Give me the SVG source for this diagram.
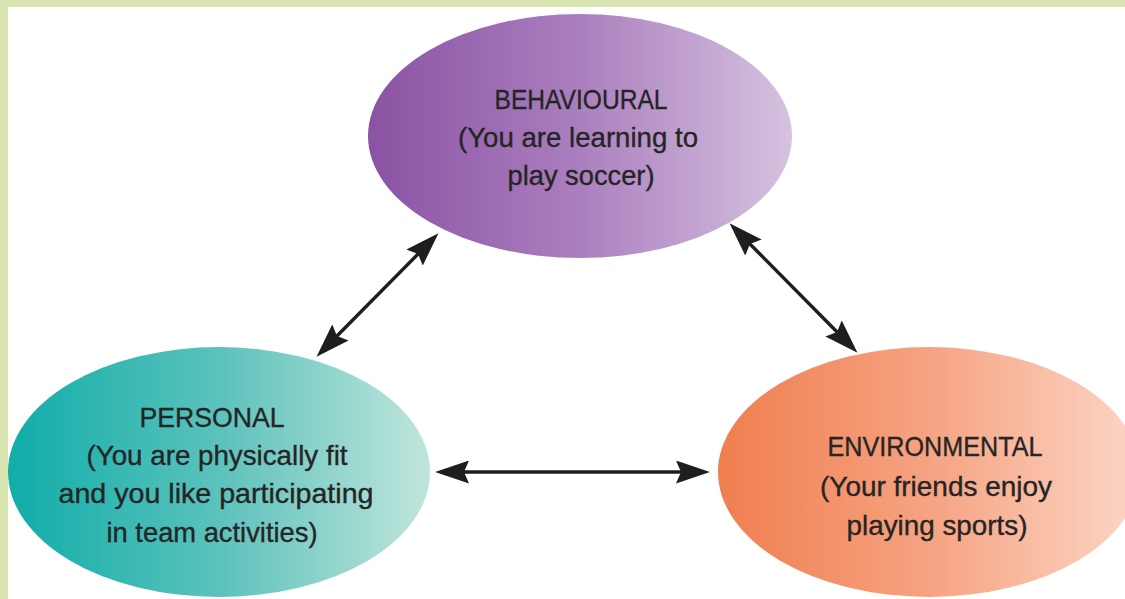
<svg xmlns="http://www.w3.org/2000/svg" width="1125" height="599" viewBox="0 0 1125 599">
<defs>
<style>
.lbl{font-family:"Liberation Sans Narrow","Liberation Sans",Arial,sans-serif;font-size:28px;fill:#252525;stroke:#252525;stroke-width:0.35;text-anchor:middle}
.conn{stroke:#1e1e1e;stroke-width:3.4;fill:none;marker-start:url(#ah);marker-end:url(#ah)}
</style>
<linearGradient id="gPurple" x1="0" y1="0" x2="1" y2="0">
<stop offset="0" stop-color="#8a52a3"/>
<stop offset="0.5" stop-color="#ab7fbe"/>
<stop offset="1" stop-color="#d6c2e0"/>
</linearGradient>
<linearGradient id="gTeal" x1="0" y1="0" x2="1" y2="0">
<stop offset="0" stop-color="#0fada9"/>
<stop offset="0.5" stop-color="#5cc2bc"/>
<stop offset="1" stop-color="#c0e5db"/>
</linearGradient>
<linearGradient id="gOrange" x1="0" y1="0" x2="1" y2="0">
<stop offset="0" stop-color="#f07e4f"/>
<stop offset="0.5" stop-color="#f6a382"/>
<stop offset="1" stop-color="#fcd6c6"/>
</linearGradient>
<marker id="ah" markerUnits="userSpaceOnUse" markerWidth="34" markerHeight="23" viewBox="0 0 34 23" refX="12" refY="11.5" orient="auto-start-reverse">
<path d="M0,0 L34,11.5 L0,23 L5,11.5 z" fill="#1e1e1e"/>
</marker>
</defs>
<rect x="0" y="0" width="1125" height="599" fill="#d8e5b0"/>
<rect x="8" y="7" width="1117" height="592" fill="#ffffff"/>
<g id="connectors">
<line class="conn" x1="332" y1="341" x2="423" y2="249"/>
<line class="conn" x1="745" y1="239" x2="842" y2="337"/>
<line class="conn" x1="457" y1="472" x2="688" y2="472"/>
</g>
<g id="behavioural">
<ellipse cx="580" cy="136" rx="212" ry="122" fill="url(#gPurple)"/>
<text class="lbl" x="581" y="109" textLength="173" lengthAdjust="spacingAndGlyphs">BEHAVIOURAL</text>
<text class="lbl" x="578" y="147" textLength="240" lengthAdjust="spacingAndGlyphs">(You are learning to</text>
<text class="lbl" x="581" y="185" textLength="147" lengthAdjust="spacingAndGlyphs">play soccer)</text>
</g>
<g id="personal">
<ellipse cx="219" cy="472" rx="211" ry="125" fill="url(#gTeal)"/>
<text class="lbl" x="212" y="427" textLength="145" lengthAdjust="spacingAndGlyphs">PERSONAL</text>
<text class="lbl" x="217" y="465" textLength="261" lengthAdjust="spacingAndGlyphs">(You are physically fit</text>
<text class="lbl" x="216" y="503" textLength="315" lengthAdjust="spacingAndGlyphs">and you like participating</text>
<text class="lbl" x="212" y="542" textLength="211" lengthAdjust="spacingAndGlyphs">in team activities)</text>
</g>
<g id="environmental">
<ellipse cx="929" cy="472" rx="211" ry="125" fill="url(#gOrange)"/>
<text class="lbl" x="935" y="456" textLength="215" lengthAdjust="spacingAndGlyphs">ENVIRONMENTAL</text>
<text class="lbl" x="936" y="496" textLength="232" lengthAdjust="spacingAndGlyphs">(Your friends enjoy</text>
<text class="lbl" x="937" y="535" textLength="181" lengthAdjust="spacingAndGlyphs">playing sports)</text>
</g>
</svg>
